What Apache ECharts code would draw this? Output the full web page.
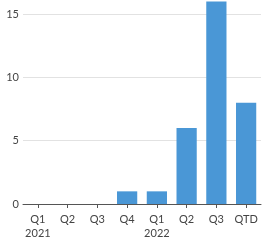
<!DOCTYPE html>
<html><head><meta charset="utf-8">
<script src="https://cdn.jsdelivr.net/npm/echarts@6/dist/echarts.min.js"></script>
<style>html,body{margin:0;padding:0;background:#fff}#c{width:269px;height:240px}</style>
</head><body><div id="c"></div>
<script>
const categories = ["Q1\n2021", "Q2", "Q3", "Q4", "Q1\n2022", "Q2", "Q3", "QTD"];
const values = [0, 0, 0, 1, 1, 6, 16, 8];
const yTicks = [0, 5, 10, 15];

const chart = echarts.init(document.getElementById('c'), null, {renderer: 'canvas'});
chart.setOption({
  animation: false,
  grid: {left: 23, right: 8, top: 1.5, bottom: 32, containLabel: false},
  xAxis: {
    type: 'category',
    data: categories,
    axisLine: {lineStyle: {color: '#555', width: 1}},
    axisTick: {show: true, alignWithLabel: true, length: 4, lineStyle: {color: '#555'}},
    axisLabel: {color: '#444', fontFamily: 'Lato', fontSize: 11, lineHeight: 14, margin: 8, interval: 0}
  },
  yAxis: {
    type: 'value',
    min: 0, max: 16, interval: 5,
    axisLine: {show: false},
    axisTick: {show: false},
    axisLabel: {color: '#444', fontFamily: 'Lato', fontSize: 11, margin: 4, showMaxLabel: false,
      formatter: v => yTicks.includes(v) ? String(v) : ''},
    splitLine: {show: true, showMaxLine: false, lineStyle: {color: '#e2e2e2', width: 1}}
  },
  series: [{
    type: 'bar',
    data: values,
    barWidth: '68%',
    itemStyle: {color: '#4a97d6'}
  }]
});
</script></body></html>
